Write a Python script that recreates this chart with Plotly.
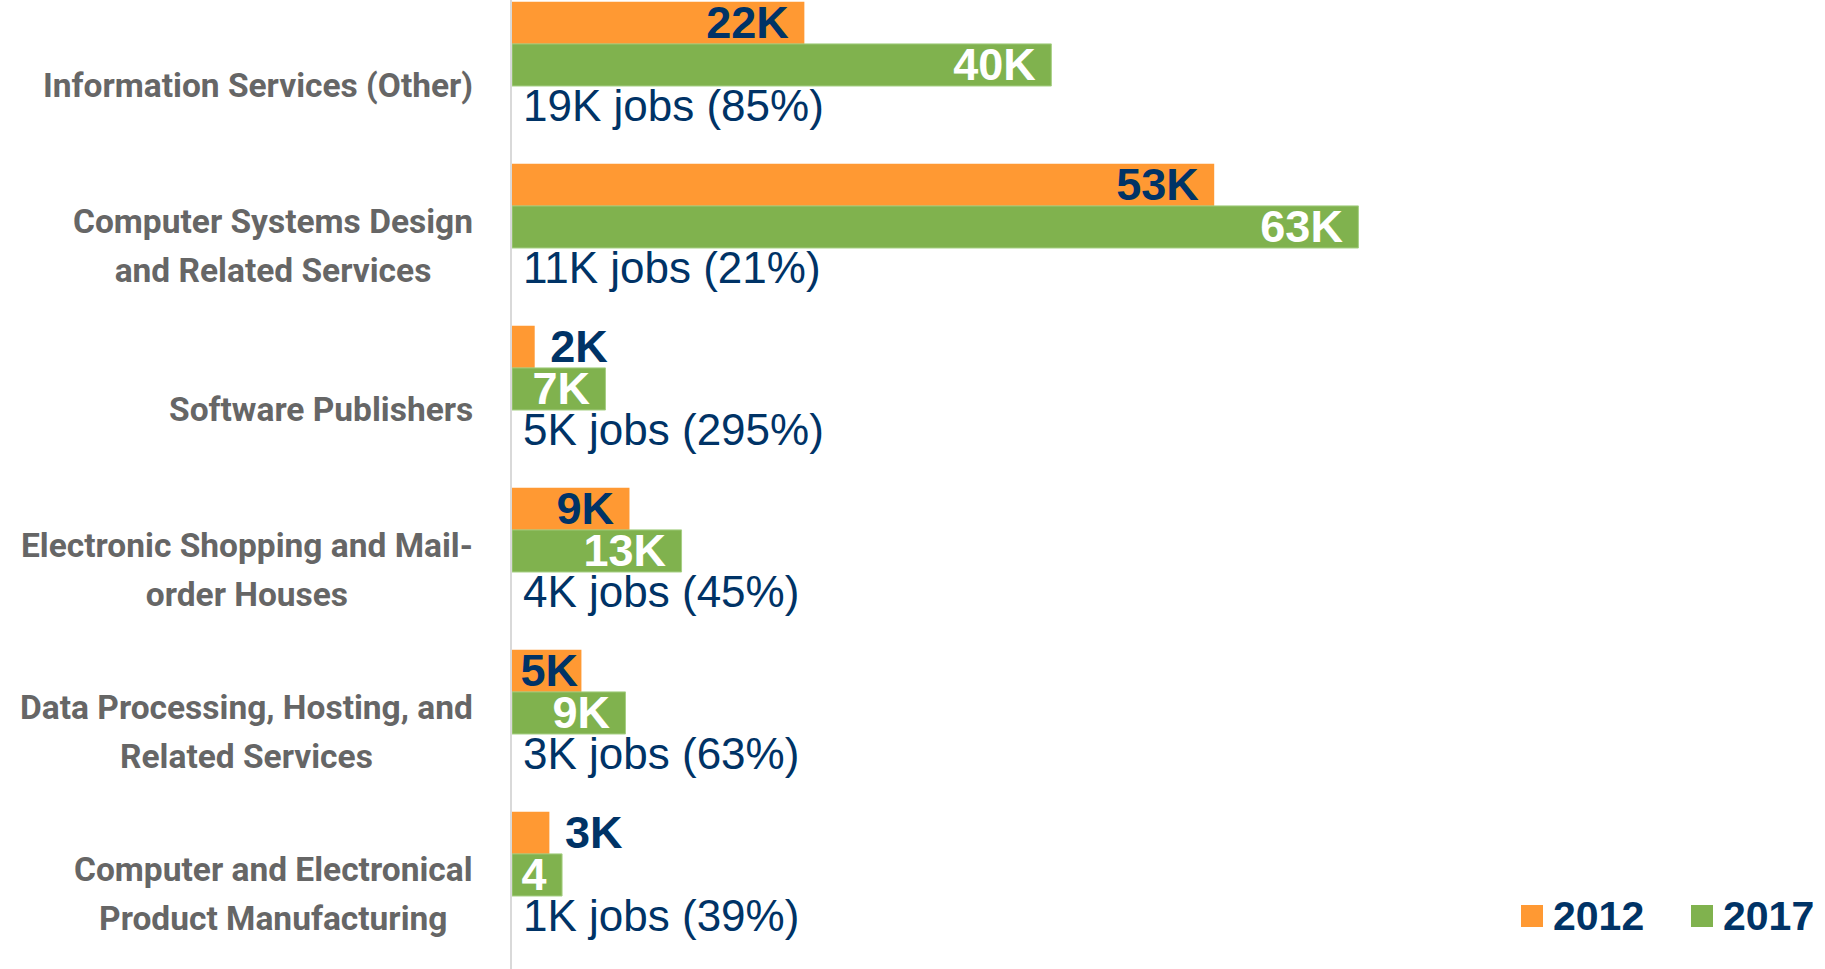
import plotly.graph_objects as go

# ---------------- data ----------------
categories = [
    "Information Services (Other)",
    "Computer Systems Design and Related Services",
    "Software Publishers",
    "Electronic Shopping and Mail-order Houses",
    "Data Processing, Hosting, and Related Services",
    "Computer and Electronical Product Manufacturing",
]
category_labels = [
    "Information Services (Other)",
    "Computer Systems Design<br>and Related Services",
    "Software Publishers",
    "Electronic Shopping and Mail-<br>order Houses",
    "Data Processing, Hosting, and<br>Related Services",
    "Computer and Electronical<br>Product Manufacturing",
]
jobs_2012 = [21.9, 52.6, 1.7, 8.8, 5.2, 2.8]      # thousands
jobs_2017 = [40.4, 63.4, 7.0, 12.7, 8.5, 3.75]    # thousands
labels_2012 = ["22K", "53K", "2K", "9K", "5K", "3K"]
labels_2017 = ["40K", "63K", "7K", "13K", "9K", "4"]
change_labels = [
    "19K jobs (85%)",
    "11K jobs (21%)",
    "5K jobs (295%)",
    "4K jobs (45%)",
    "3K jobs (63%)",
    "1K jobs (39%)",
]
years = ["2012", "2017"]

# ---------------- style ----------------
ORANGE = "#FF9933"
GREEN = "#80B24E"
NAVY = "#003366"
GREY = "#666666"
LABELFONT = "Roboto, Liberation Sans, Arial, sans-serif"
SANS = "Liberation Sans, Arial, sans-serif"
NBSP = "\u00a0"
CAT_SIZE = 33.5
HALF_LINE = CAT_SIZE * 1.3 / 2

pos_2012 = ["inside", "inside", "outside", "inside", "inside", "outside"]
pad_2012 = [True, True, True, True, False, True]
text_2012 = []
for l, p, pad in zip(labels_2012, pos_2012, pad_2012):
    if not pad:
        text_2012.append(l)
    elif p == "inside":
        text_2012.append(l + NBSP)
    else:
        text_2012.append(NBSP + l)
text_2017 = [l + NBSP for l in labels_2017]

W = 0.26  # bar thickness in category units

fig = go.Figure()
fig.add_trace(go.Bar(
    y=categories, x=jobs_2012, orientation="h", name=years[0],
    marker=dict(color=ORANGE, line=dict(width=0)),
    width=W, offset=-2 * W,
    text=text_2012, textposition=pos_2012, insidetextanchor="end",
    textangle=0, constraintext="none", cliponaxis=False,
    textfont=dict(family=SANS, size=45, color=NAVY, weight="bold"),
    insidetextfont=dict(family=SANS, size=45, color=NAVY, weight="bold"),
    outsidetextfont=dict(family=SANS, size=45, color=NAVY, weight="bold"),
    showlegend=False, hoverinfo="skip",
))
fig.add_trace(go.Bar(
    y=categories, x=jobs_2017, orientation="h", name=years[1],
    marker=dict(color=GREEN, line=dict(width=1, color="#A6CF84")),
    width=W, offset=-W,
    text=text_2017, textposition="inside", insidetextanchor="end",
    textangle=0, constraintext="none", cliponaxis=False,
    textfont=dict(family=SANS, size=45, color="white", weight="bold"),
    insidetextfont=dict(family=SANS, size=45, color="white", weight="bold"),
    showlegend=False, hoverinfo="skip",
))

annotations = []
for cat, lab, chg in zip(categories, category_labels, change_labels):
    lines = lab.split("<br>")
    catfont = dict(family=LABELFONT, size=CAT_SIZE, color=GREY, weight="bold")
    if len(lines) == 1:
        annotations.append(dict(
            x=0, y=cat, xref="x", yref="y", text=lines[0], showarrow=False,
            xanchor="right", yanchor="middle", xshift=-37, yshift=1,
            font=catfont,
        ))
    else:
        first, second = lines
        # first (widest) line, right-aligned to the label column
        annotations.append(dict(
            x=0, y=cat, xref="x", yref="y", text=first, showarrow=False,
            xanchor="right", yanchor="middle", xshift=-37, yshift=26.5,
            font=catfont,
        ))
        # second line centred under the first: an invisible copy of the first
        # line above it gives the block the same width
        hidden = "<span style='color:rgba(0,0,0,0)'>" + first + "</span>"
        annotations.append(dict(
            x=0, y=cat, xref="x", yref="y", text=hidden + "<br>" + second,
            showarrow=False, xanchor="right", yanchor="bottom", align="center",
            xshift=-37, yshift=-22 - HALF_LINE, font=catfont,
        ))
    annotations.append(dict(
        x=0, y=cat, xref="x", yref="y", text=chg, showarrow=False,
        xanchor="left", yanchor="middle", xshift=9, yshift=-19, align="left",
        font=dict(family=SANS, size=44, color=NAVY),
    ))

# manual legend (big square swatches)
legend_items = [(years[0], ORANGE, 1521), (years[1], GREEN, 1691)]
PL, PW, PH = 512, 1313, 969
shapes = []
for name, col, px in legend_items:
    shapes.append(dict(
        type="rect", xref="paper", yref="paper",
        x0=(px - PL) / PW, x1=(px + 22 - PL) / PW,
        y0=1 - 927 / PH, y1=1 - 905 / PH,
        fillcolor=col, line=dict(width=0),
    ))
    annotations.append(dict(
        x=(px + 30 - PL) / PW, y=1 - 916 / PH, xref="paper", yref="paper",
        text=name, showarrow=False, xanchor="left", yanchor="middle",
        font=dict(family=SANS, size=41, color=NAVY, weight="bold"),
    ))

fig.update_layout(
    width=1825, height=969,
    margin=dict(l=512, r=0, t=0, b=0, pad=0),
    paper_bgcolor="white", plot_bgcolor="white",
    barmode="overlay",
    annotations=annotations, shapes=shapes,
    showlegend=False,
    xaxis=dict(range=[0, 1313 / 13.35], visible=False, showgrid=False, zeroline=False),
    yaxis=dict(
        type="category", categoryorder="array", categoryarray=categories,
        range=[(969 - 86) / 162, -86 / 162],
        showline=True, linecolor="#D9D9D9", linewidth=2,
        showticklabels=False, showgrid=False, zeroline=False, ticks="",
    ),
)

fig.write_html("out.html", config={"displayModeBar": False},
               post_script="document.body.style.margin='0px';")
